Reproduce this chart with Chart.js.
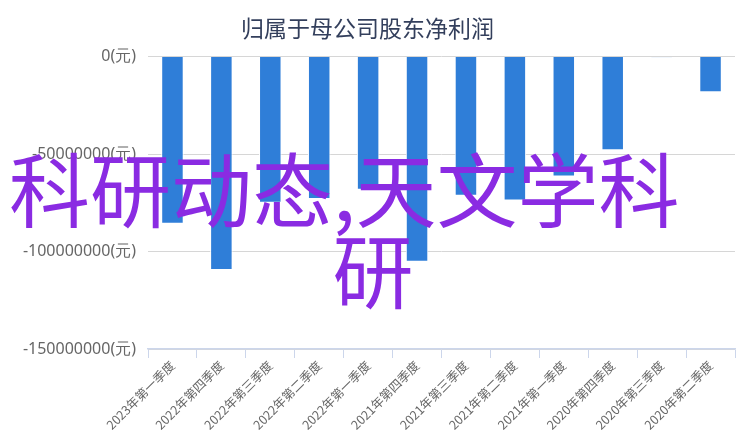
<!DOCTYPE html>
<html>
<head>
<meta charset="utf-8">
<script src="https://cdn.jsdelivr.net/npm/chart.js@4/dist/chart.umd.min.js"></script>
<style>
  html, body { margin: 0; padding: 0; background: #fff; }
  #wrap { position: relative; width: 746px; height: 442px; }
  .mark {
    position: absolute; color: #8a2be2; font-size: 81px; line-height: 82px;
    font-family: "Noto Sans CJK SC", sans-serif; pointer-events: none; white-space: nowrap;
  }
</style>
</head>
<body>
<div id="wrap">
  <canvas id="myChart" width="746" height="442"></canvas>
  <div class="mark" style="left:9px; top:145px;">科研动态,天文学科</div>
  <div class="mark" style="left:0; width:746px; text-align:center; top:226px;">研</div>
</div>
<script>
// quarters, newest first
const quarters = ["2023年第一季度", "2022年第四季度", "2022年第三季度", "2022年第二季度",
  "2022年第一季度", "2021年第四季度", "2021年第三季度", "2021年第二季度",
  "2021年第一季度", "2020年第四季度", "2020年第三季度", "2020年第二季度"];
// net profit attributable to parent company shareholders (yuan)
const netProfit = [-85800000, -109500000, -75000000, -73000000, -68300000, -105300000,
  -71400000, -73800000, -61500000, -48100000, -300000, -18300000];
const yTicks = [0, -50000000, -100000000, -150000000];

const ctx = document.getElementById("myChart").getContext("2d");
new Chart(ctx, {
  type: "bar",
  data: {
    labels: quarters,
    datasets: [{
      label: "归属于母公司股东净利润",
      data: netProfit,
      backgroundColor: "#2f7ed8",
      borderColor: "#ffffff",
      borderWidth: 1,
      barPercentage: 1,
      categoryPercentage: 0.46
    }]
  },
  options: {
    responsive: false,
    animation: false,
    layout: { padding: { left: 0, right: 11, top: 0, bottom: 0 } },
    plugins: {
      legend: { display: false },
      tooltip: { enabled: false },
      title: {
        display: true,
        text: "归属于母公司股东净利润",
        color: "#333f5c",
        font: { size: 23, family: "'Noto Sans CJK SC', sans-serif", weight: "normal" },
        padding: { top: 14, bottom: 15 }
      }
    },
    scales: {
      x: {
        grid: { offset: true, drawOnChartArea: false, drawTicks: true, tickLength: 9, color: "#ccd6eb" },
        border: { color: "#ccd6eb", width: 1.5 },
        ticks: {
          autoSkip: false, minRotation: 45, maxRotation: 45,
          color: "#666", padding: 0,
          font: { size: 12.5, family: "'Noto Sans CJK SC', sans-serif" }
        },
        afterFit: s => { s.height = 93; }
      },
      y: {
        min: -150000000,
        max: 0,
        afterBuildTicks: s => { s.ticks = yTicks.map(v => ({ value: v })); },
        grid: { color: "#d6d6d6", drawTicks: false },
        border: { display: false },
        ticks: {
          color: "#666", padding: 12,
          font: { size: 16, family: "'Noto Sans', sans-serif" },
          callback: v => v + "(元)"
        },
        afterFit: s => { s.width = 148; }
      }
    }
  }
});
</script>
</body>
</html>
